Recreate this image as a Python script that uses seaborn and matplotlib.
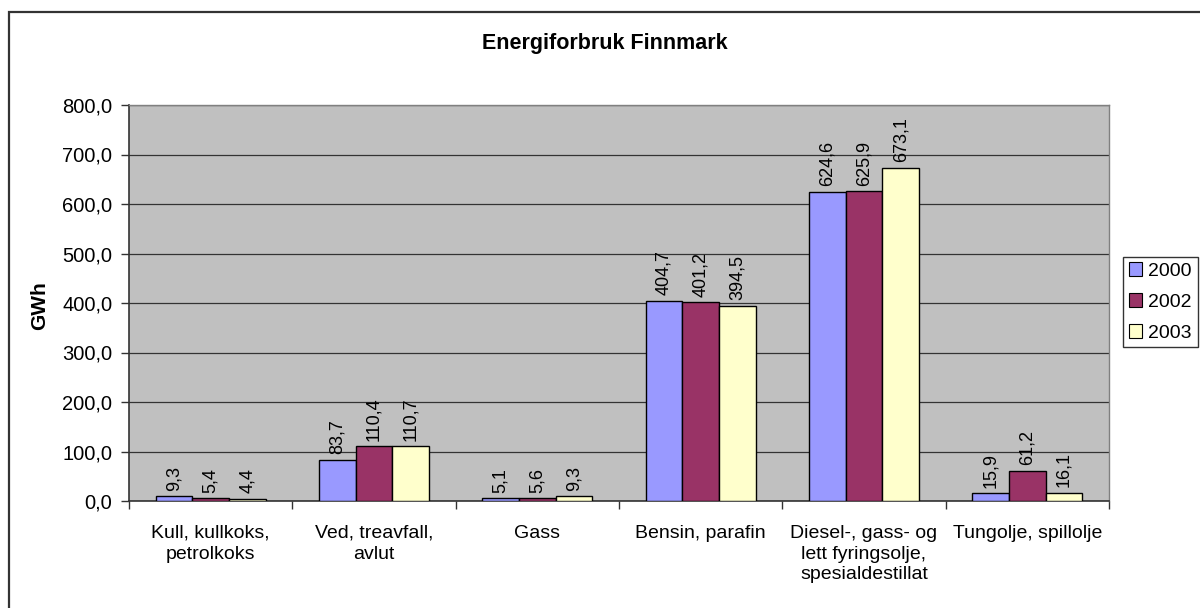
import matplotlib
matplotlib.use("Agg")
import matplotlib.pyplot as plt
import seaborn as sns
import pandas as pd
from matplotlib.patches import Rectangle
from matplotlib.ticker import FixedLocator, FuncFormatter

categories = ["Kull, kullkoks,\npetrolkoks", "Ved, treavfall,\navlut", "Gass",
              "Bensin, parafin", "Diesel-, gass- og\nlett fyringsolje,\nspesialdestillat",
              "Tungolje, spillolje"]
years = ["2000", "2002", "2003"]
values_2000 = [9.3, 83.7, 5.1, 404.7, 624.6, 15.9]
values_2002 = [5.4, 110.4, 5.6, 401.2, 625.9, 61.2]
values_2003 = [4.4, 110.7, 9.3, 394.5, 673.1, 16.1]
colors = ["#9999FF", "#993366", "#FFFFCC"]
y_ticks = [0, 100, 200, 300, 400, 500, 600, 700, 800]

rows = []
for yr, vals in zip(years, [values_2000, values_2002, values_2003]):
    for c, v in zip(categories, vals):
        rows.append({"Kategori": c, "År": yr, "GWh": v})
df = pd.DataFrame(rows)

sns.set_theme(style="white")
plt.rcParams['font.family'] = ['Liberation Sans', 'DejaVu Sans']
plt.rcParams['text.color'] = 'black'
plt.rcParams['xtick.color'] = 'black'
plt.rcParams['ytick.color'] = 'black'
plt.rcParams['axes.labelcolor'] = 'black'

fig = plt.figure(figsize=(12, 6.08), dpi=100)
W, H = 1200, 608
# outer chart frame
fig.patches.append(Rectangle((9 / W, -0.05), 1.2, 1 - 12 / H + 0.05, transform=fig.transFigure,
                             fill=False, edgecolor="#333333", linewidth=1.6))

ax = fig.add_axes([129 / W, 1 - 501 / H, (1109 - 129) / W, (501 - 105) / H])
ax.set_facecolor("#C0C0C0")

sns.barplot(data=df, x="Kategori", y="GWh", hue="År", order=categories, hue_order=years,
            palette=colors, width=0.675, edgecolor="black", linewidth=1.0, ax=ax,
            saturation=1, errorbar=None, zorder=3)

for cont in ax.containers:
    labels = [f"{v:.1f}".replace(".", ",") for v in cont.datavalues]
    ax.bar_label(cont, labels=labels, rotation=90, padding=4, fontsize=13, color="black")

ax.set_ylim(0, 800)
ax.set_xlim(-0.5, len(categories) - 0.5)
ax.yaxis.set_major_locator(FixedLocator(y_ticks))
ax.yaxis.set_major_formatter(FuncFormatter(lambda v, p: f"{v:.1f}".replace(".", ",")))
ax.grid(axis="y", color="#333333", linewidth=0.9, zorder=0)
ax.set_axisbelow(True)

# category boundaries as major ticks, labels at centers as minor ticks
ax.set_xticks([i - 0.5 for i in range(len(categories) + 1)])
ax.set_xticklabels([])
ax.set_xticks(range(len(categories)), minor=True)
ax.set_xticklabels(categories, minor=True, fontsize=14, linespacing=1.3)
ax.tick_params(axis="x", which="minor", length=0, pad=17, labelcolor="black")
ax.tick_params(axis="x", which="major", direction="out", length=6, width=1, color="#333333")
ax.tick_params(axis="y", direction="out", length=6, width=1, color="#333333", labelsize=14.5,
               pad=6, labelcolor="black")
ax.tick_params(left=True, bottom=True)

for side in ["left", "bottom"]:
    ax.spines[side].set_color("#333333")
    ax.spines[side].set_linewidth(1.2)
for side in ["top", "right"]:
    ax.spines[side].set_color("#808080")
    ax.spines[side].set_linewidth(1.0)

ax.set_xlabel("")
ax.set_ylabel("")
fig.text(40 / W, 1 - 306 / H, "GWh", ha="center", va="center", rotation=90,
         fontsize=15, fontweight="bold", color="black")
fig.text(605 / W, 1 - 43 / H, "Energiforbruk Finnmark", ha="center", va="center",
         fontsize=15.5, fontweight="bold", color="black")

leg = ax.legend(loc="center left", bbox_to_anchor=(1123 / W, 1 - 302 / H),
                bbox_transform=fig.transFigure, frameon=True, fancybox=False,
                fontsize=14, handlelength=0.7, handleheight=0.7, handletextpad=0.3,
                borderpad=0.3, labelspacing=0.68, borderaxespad=0, labelcolor="black")
leg.get_frame().set_edgecolor("black")
leg.get_frame().set_linewidth(1.0)
for h in leg.legend_handles:
    h.set_edgecolor("black")
    h.set_linewidth(0.8)

fig.savefig("out.png", dpi=100)
